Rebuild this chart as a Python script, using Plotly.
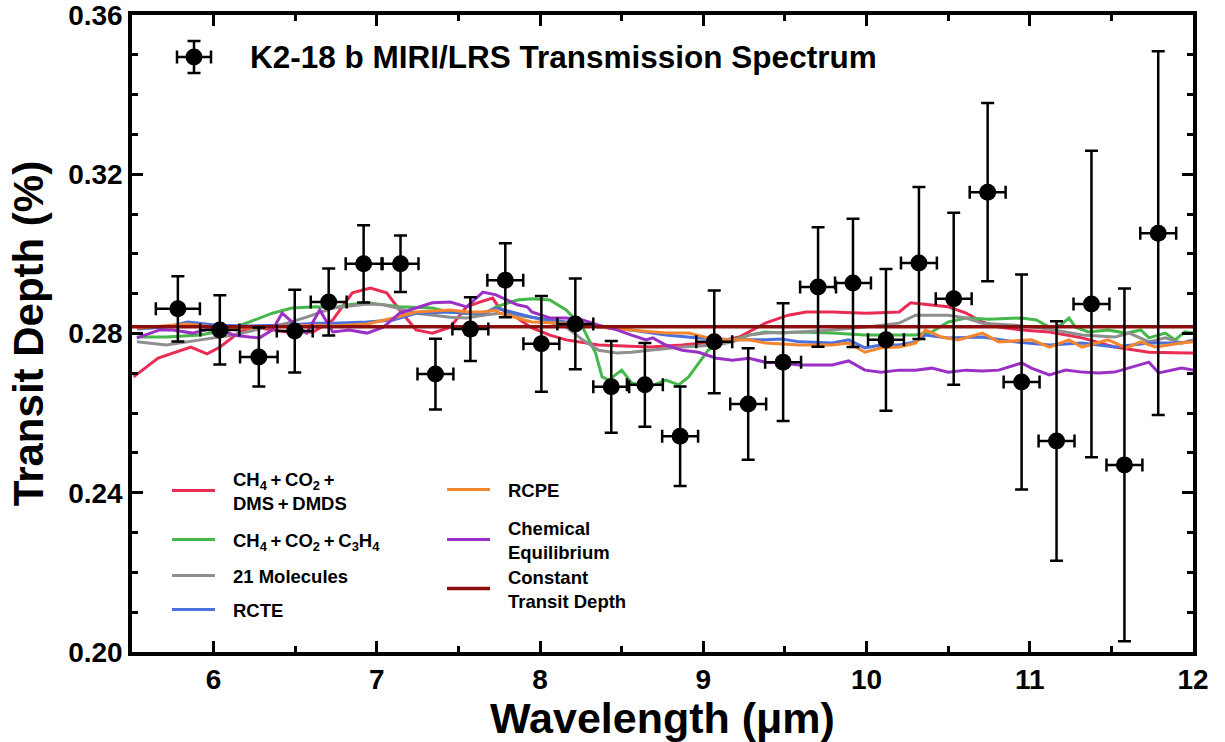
import plotly.graph_objects as go

# ---------------- Observed spectrum ----------------
obs_wave = [5.781, 6.038, 6.277, 6.497, 6.705, 6.919, 7.145, 7.359, 7.573, 7.787,
            8.008, 8.216, 8.436, 8.642, 8.858, 9.067, 9.275, 9.489, 9.703, 9.917,
            10.119, 10.321, 10.534, 10.742, 10.950, 11.164, 11.378, 11.580, 11.787]
obs_depth = [0.2862, 0.2809, 0.2741, 0.2806, 0.2879, 0.2975, 0.2975, 0.2698, 0.2811, 0.2934,
             0.2774, 0.2824, 0.2666, 0.2671, 0.2542, 0.2779, 0.2623, 0.2728, 0.2917, 0.2927,
             0.2784, 0.2977, 0.2887, 0.3155, 0.2678, 0.2530, 0.2874, 0.2470, 0.3052]
obs_yerr = [0.0082, 0.0087, 0.0074, 0.0104, 0.0084, 0.0097, 0.0071, 0.0089, 0.0080, 0.0093,
            0.0120, 0.0114, 0.0115, 0.0105, 0.0125, 0.0129, 0.0140, 0.0148, 0.0150, 0.0161,
            0.0178, 0.0191, 0.0216, 0.0224, 0.0270, 0.0301, 0.0385, 0.0443, 0.0457]
obs_xerr = [0.135, 0.12, 0.115, 0.11, 0.11, 0.11, 0.11, 0.11, 0.11, 0.11,
            0.11, 0.11, 0.11, 0.11, 0.11, 0.11, 0.11, 0.11, 0.11, 0.11,
            0.11, 0.11, 0.11, 0.11, 0.11, 0.11, 0.11, 0.11, 0.11]

# ---------------- Model spectra ----------------
dms_x = [5.51, 5.66, 5.86, 5.96, 6.04, 6.16, 6.24, 6.45, 6.61, 6.73, 6.85, 6.96, 7.06, 7.14,
         7.24, 7.34, 7.45, 7.55, 7.63, 7.71, 7.75, 7.86, 7.95, 8.06, 8.16, 8.36, 8.67, 8.87,
         9.08, 9.22, 9.38, 9.52, 9.63, 9.79, 10.00, 10.20, 10.27, 10.40, 10.50, 10.61, 10.71,
         10.81, 10.95, 11.12, 11.32, 11.52, 11.73, 11.97, 12.0]
dms_y = [0.2691, 0.2738, 0.2766, 0.2749, 0.2766, 0.2804, 0.2816, 0.2804, 0.2804, 0.2834,
         0.2902, 0.2914, 0.2902, 0.2859, 0.2809, 0.2801, 0.2816, 0.2867, 0.2879, 0.2889,
         0.2864, 0.2839, 0.2814, 0.2796, 0.2784, 0.2771, 0.2766, 0.2771, 0.2779, 0.2791,
         0.2826, 0.2846, 0.2854, 0.2854, 0.2851, 0.2854, 0.2877, 0.2872, 0.2867, 0.2851,
         0.2829, 0.2816, 0.2809, 0.2804, 0.2789, 0.2766, 0.2753, 0.2751, 0.2751]

c3h4_x = [5.53, 5.71, 5.92, 6.08, 6.22, 6.36, 6.48, 6.63, 6.73, 6.83, 6.94, 7.14, 7.34, 7.44,
          7.55, 7.65, 7.73, 7.86, 7.95, 8.06, 8.16, 8.26, 8.34, 8.38, 8.42, 8.50, 8.56, 8.67,
          8.77, 8.85, 8.91, 8.97, 9.03, 9.10, 9.18, 9.28, 9.38, 9.48, 9.59, 9.79, 9.99, 10.20,
          10.30, 10.40, 10.50, 10.61, 10.75, 10.95, 11.04, 11.12, 11.19, 11.24, 11.28, 11.36,
          11.48, 11.59, 11.68, 11.73, 11.83, 11.89, 11.95, 12.0]
c3h4_y = [0.2791, 0.2791, 0.2796, 0.2809, 0.2829, 0.2851, 0.2864, 0.2867, 0.2864, 0.2872,
          0.2877, 0.2867, 0.2864, 0.2854, 0.2851, 0.2846, 0.2867, 0.2884, 0.2887, 0.2884,
          0.2859, 0.2816, 0.2751, 0.2691, 0.2683, 0.2708, 0.2676, 0.2666, 0.2683, 0.2671,
          0.2691, 0.2726, 0.2758, 0.2776, 0.2784, 0.2796, 0.2804, 0.2801, 0.2804, 0.2801,
          0.2796, 0.2796, 0.2796, 0.2804, 0.2829, 0.2839, 0.2836, 0.2839, 0.2834, 0.2816,
          0.2821, 0.2839, 0.2816, 0.2804, 0.2809, 0.2801, 0.2809, 0.2789, 0.2801, 0.2784,
          0.2804, 0.2801]

mol21_x = [5.53, 5.71, 5.92, 6.12, 6.28, 6.45, 6.57, 6.73, 6.94, 7.04, 7.14, 7.24, 7.45, 7.55,
           7.65, 7.75, 7.95, 8.16, 8.26, 8.36, 8.47, 8.56, 8.67, 8.87, 9.08, 9.18, 9.28, 9.38,
           9.59, 9.79, 9.99, 10.20, 10.30, 10.50, 10.61, 10.71, 10.91, 11.07, 11.22, 11.32,
           11.52, 11.61, 11.73, 11.83, 11.93, 12.0]
mol21_y = [0.2779, 0.2771, 0.2784, 0.2796, 0.2811, 0.2826, 0.2841, 0.2864, 0.2874, 0.2872,
           0.2862, 0.2851, 0.2841, 0.2839, 0.2846, 0.2851, 0.2841, 0.2816, 0.2784, 0.2758,
           0.2751, 0.2753, 0.2758, 0.2766, 0.2771, 0.2779, 0.2796, 0.2801, 0.2804, 0.2809,
           0.2816, 0.2826, 0.2846, 0.2846, 0.2839, 0.2826, 0.2821, 0.2814, 0.2804, 0.2796,
           0.2791, 0.2801, 0.2779, 0.2789, 0.2776, 0.2784]

rcte_x = [5.53, 5.71, 5.84, 6.02, 6.22, 6.42, 6.63, 6.73, 6.94, 7.10, 7.24, 7.45, 7.55, 7.65,
          7.73, 7.86, 7.95, 8.06, 8.16, 8.36, 8.56, 8.77, 8.97, 9.18, 9.38, 9.48, 9.59, 9.79,
          9.89, 9.99, 10.09, 10.20, 10.30, 10.36, 10.50, 10.71, 10.91, 11.12, 11.32, 11.52,
          11.73, 11.93, 12.0]
rcte_y = [0.2811, 0.2816, 0.2829, 0.2821, 0.2819, 0.2821, 0.2826, 0.2826, 0.2829, 0.2834,
          0.2851, 0.2854, 0.2851, 0.2851, 0.2864, 0.2851, 0.2841, 0.2834, 0.2829, 0.2816,
          0.2809, 0.2796, 0.2789, 0.2784, 0.2784, 0.2786, 0.2779, 0.2776, 0.2784, 0.2764,
          0.2771, 0.2771, 0.2779, 0.2796, 0.2789, 0.2791, 0.2779, 0.2771, 0.2776, 0.2766,
          0.2776, 0.2776, 0.2781]

rcpe_x = [5.53, 5.71, 5.84, 6.02, 6.22, 6.42, 6.63, 6.73, 6.94, 7.10, 7.24, 7.45, 7.55, 7.65,
          7.73, 7.75, 7.95, 8.16, 8.36, 8.56, 8.77, 8.91, 9.08, 9.28, 9.38, 9.59, 9.79, 9.89,
          9.99, 10.09, 10.20, 10.30, 10.36, 10.46, 10.56, 10.71, 10.81, 11.01, 11.12, 11.24,
          11.32, 11.48, 11.59, 11.68, 11.77, 11.93, 12.0]
rcpe_y = [0.2814, 0.2819, 0.2824, 0.2816, 0.2814, 0.2819, 0.2821, 0.2819, 0.2824, 0.2839,
          0.2854, 0.2859, 0.2854, 0.2854, 0.2859, 0.2851, 0.2829, 0.2826, 0.2816, 0.2809,
          0.2801, 0.2801, 0.2784, 0.2784, 0.2776, 0.2771, 0.2771, 0.2776, 0.2753, 0.2764,
          0.2766, 0.2776, 0.2809, 0.2791, 0.2784, 0.2801, 0.2779, 0.2784, 0.2766, 0.2784,
          0.2766, 0.2784, 0.2764, 0.2779, 0.2766, 0.2776, 0.2779]

cheq_x = [5.53, 5.67, 5.75, 5.87, 6.02, 6.12, 6.22, 6.28, 6.36, 6.42, 6.48, 6.57, 6.65, 6.73,
          6.83, 6.94, 7.04, 7.14, 7.24, 7.34, 7.45, 7.55, 7.65, 7.73, 7.86, 7.92, 7.95, 8.06,
          8.16, 8.26, 8.36, 8.47, 8.56, 8.65, 8.69, 8.77, 8.87, 8.97, 9.08, 9.18, 9.28, 9.38,
          9.48, 9.59, 9.69, 9.79, 9.89, 9.99, 10.09, 10.20, 10.30, 10.40, 10.50, 10.61, 10.71,
          10.81, 10.95, 11.01, 11.12, 11.22, 11.32, 11.42, 11.52, 11.61, 11.73, 11.79, 11.93, 12.0]
cheq_y = [0.2789, 0.2809, 0.2809, 0.2801, 0.2816, 0.2796, 0.2791, 0.2789, 0.2809, 0.2851,
          0.2829, 0.2801, 0.2859, 0.2804, 0.2809, 0.2801, 0.2816, 0.2851, 0.2864, 0.2877,
          0.2879, 0.2867, 0.2904, 0.2897, 0.2872, 0.2867, 0.2854, 0.2839, 0.2839, 0.2834,
          0.2821, 0.2809, 0.2796, 0.2784, 0.2789, 0.2771, 0.2758, 0.2753, 0.2738, 0.2733,
          0.2738, 0.2728, 0.2726, 0.2721, 0.2721, 0.2721, 0.2731, 0.2708, 0.2703, 0.2708,
          0.2708, 0.2713, 0.2703, 0.2708, 0.2706, 0.2708, 0.2726, 0.2713, 0.2696, 0.2708,
          0.2703, 0.2701, 0.2703, 0.2713, 0.2728, 0.2701, 0.2713, 0.2708]

const_x = [5.5, 12.0]
const_y = [0.2817, 0.2817]

# ---------------- Ticks & labels ----------------
x_ticks = [6, 7, 8, 9, 10, 11, 12]
y_ticks = [0.20, 0.24, 0.28, 0.32, 0.36]
y_ticktext = ["0.20", "0.24", "0.28", "0.32", "0.36"]

model_names = [
    "CH<sub>4</sub>\u2009+\u2009CO<sub>2</sub>\u2009+<br>DMS\u2009+\u2009DMDS",
    "CH<sub>4</sub>\u2009+\u2009CO<sub>2</sub>\u2009+\u2009C<sub>3</sub>H<sub>4</sub>",
    "21 Molecules",
    "RCTE",
    "RCPE",
    "Chemical<br>Equilibrium",
    "Constant<br>Transit Depth",
]
model_colors = ["#EC2B55", "#45B84B", "#8F8F8F", "#4A6FDF", "#F4872E", "#9A30C6", "#8C0F0F"]
data_label = "K2-18 b MIRI/LRS Transmission Spectrum"

FONT = "Liberation Sans, Arial, Helvetica, sans-serif"

# plot-area pixel geometry (used only to place legend decorations)
PL, PR, PT, PB = 132, 1193, 15, 652


def px_x(p):
    return (p - PL) / (PR - PL)


def px_y(p):
    return (PB - p) / (PB - PT)


PAD = "\u2002\u2009"  # gap between legend line and label


def pad_label(s):
    return "<br>".join(PAD + part for part in s.split("<br>"))


# legend slot for each model: (legend id, line-start px, centre-y px)
legend_slots = [
    ("legend", 172, 491),
    ("legend2", 172, 540),
    ("legend3", 172, 576),
    ("legend4", 172, 610),
    ("legend5", 447, 490),
    ("legend6", 447, 540),
    ("legend7", 447, 589),
]

fig = go.Figure()
series = [(dms_x, dms_y), (c3h4_x, c3h4_y), (mol21_x, mol21_y), (rcte_x, rcte_y),
          (rcpe_x, rcpe_y), (cheq_x, cheq_y), (const_x, const_y)]
for i, ((xs, ys), name, col) in enumerate(zip(series, model_names, model_colors)):
    fig.add_trace(go.Scatter(
        x=xs, y=ys, mode="lines", name=pad_label(name),
        line=dict(color=col, width=3.6 if i == 6 else 3.0),
        legend=legend_slots[i][0],
    ))

fig.add_trace(go.Scatter(
    x=obs_wave, y=obs_depth, mode="markers", name=data_label, showlegend=False,
    marker=dict(color="black", size=17, symbol="circle"),
    error_y=dict(type="data", array=obs_yerr, color="black", thickness=2.5, width=6.5),
    error_x=dict(type="data", array=obs_xerr, color="black", thickness=2.5, width=6.5),
))

axis_common = dict(
    showline=True, linecolor="black", linewidth=3.5, mirror="ticks",
    ticks="inside", ticklen=11, tickwidth=3, tickcolor="black",
    showgrid=False, zeroline=False, automargin=False, ticklabeloverflow="allow",
    tickfont=dict(family=FONT, size=28, color="black", weight="bold"),
)
fig.update_xaxes(
    range=[5.5, 12], tickmode="array", tickvals=x_ticks, ticktext=[str(v) for v in x_ticks],
    minor=dict(ticks="inside", ticklen=6, tickwidth=3, tickcolor="black", tick0=5.5, dtick=0.5,
               showgrid=False),
    title=dict(text="Wavelength (\u03bcm)", font=dict(family=FONT, size=43, color="black", weight="bold"),
               standoff=6),
    **axis_common,
)
fig.update_yaxes(
    range=[0.20, 0.36], tickmode="array", tickvals=y_ticks, ticktext=y_ticktext,
    minor=dict(ticks="inside", ticklen=6, tickwidth=3, tickcolor="black", tick0=0.20, dtick=0.01,
               showgrid=False),
    title=dict(text="Transit Depth (%)", font=dict(family=FONT, size=42, color="black", weight="bold"),
               standoff=12),
    **axis_common,
)

legend_layout = {}
for lid, lx, ly in legend_slots:
    legend_layout[lid] = dict(
        x=px_x(lx - 5), y=px_y(ly), xanchor="left", yanchor="middle",
        bgcolor="rgba(0,0,0,0)", borderwidth=0,
        font=dict(family=FONT, size=18.5, color="black", weight="bold"),
        valign="middle", itemwidth=43,
    )

fig.update_layout(
    width=1225, height=742,
    margin=dict(l=PL, r=1225 - PR, t=PT, b=742 - PB, autoexpand=False),
    paper_bgcolor="white", plot_bgcolor="white",
    font=dict(family=FONT, color="black"),
    **legend_layout,
)

# ---- legend entry for the observed data (symbol with error bars + label) ----
cx, cy = 194, 57
bar = dict(color="black", width=2.5)
shapes = [
    dict(type="line", xref="paper", yref="paper", x0=px_x(177), x1=px_x(211), y0=px_y(cy), y1=px_y(cy), line=bar),
    dict(type="line", xref="paper", yref="paper", x0=px_x(cx), x1=px_x(cx), y0=px_y(41), y1=px_y(73), line=bar),
    dict(type="line", xref="paper", yref="paper", x0=px_x(177), x1=px_x(177), y0=px_y(cy - 6.5), y1=px_y(cy + 6.5), line=bar),
    dict(type="line", xref="paper", yref="paper", x0=px_x(211), x1=px_x(211), y0=px_y(cy - 6.5), y1=px_y(cy + 6.5), line=bar),
    dict(type="line", xref="paper", yref="paper", x0=px_x(cx - 6.5), x1=px_x(cx + 6.5), y0=px_y(41), y1=px_y(41), line=bar),
    dict(type="line", xref="paper", yref="paper", x0=px_x(cx - 6.5), x1=px_x(cx + 6.5), y0=px_y(73), y1=px_y(73), line=bar),
    dict(type="circle", xref="paper", yref="paper", x0=px_x(cx - 8.5), x1=px_x(cx + 8.5),
         y0=px_y(cy + 8.5), y1=px_y(cy - 8.5), fillcolor="black", line=dict(color="black", width=0)),
]
fig.update_layout(shapes=shapes)
fig.add_annotation(
    x=px_x(248), y=px_y(cy), xref="paper", yref="paper", xanchor="left", yanchor="middle",
    text=data_label, showarrow=False,
    font=dict(family=FONT, size=31.5, color="black", weight="bold"),
)

fig.write_html("out.html")
